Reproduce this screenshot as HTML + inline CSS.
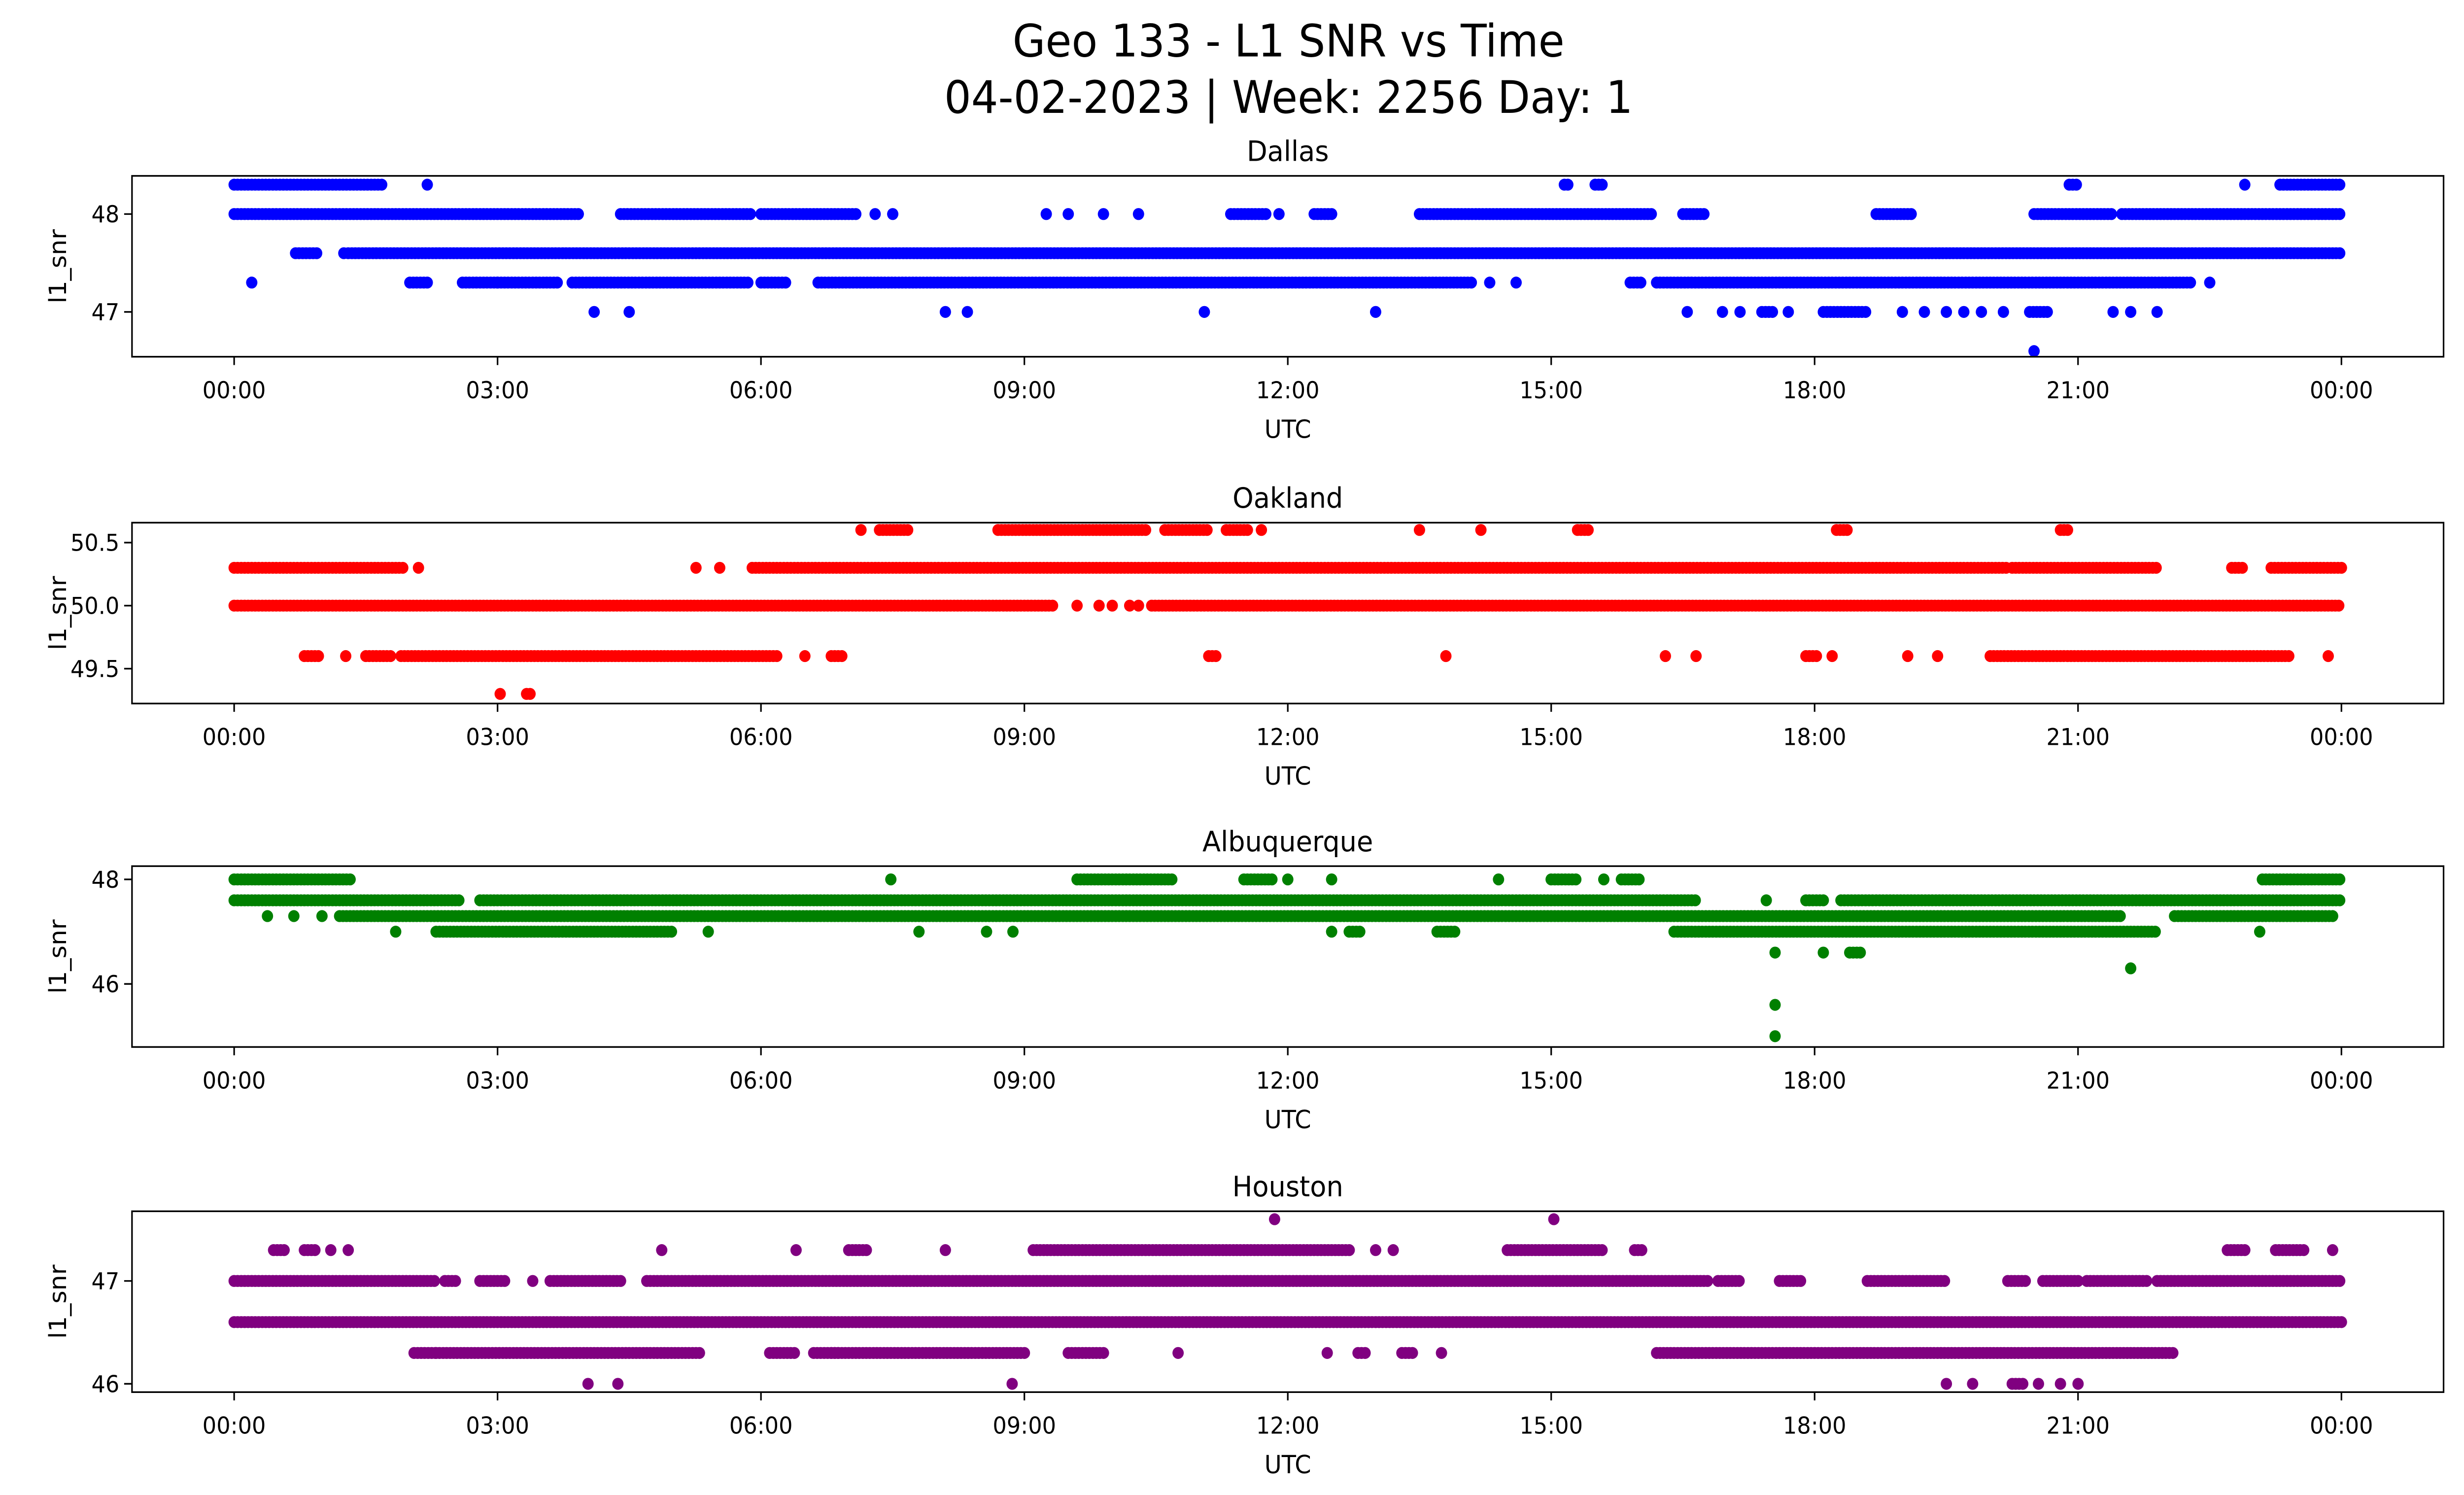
<!DOCTYPE html>
<html><head><meta charset="utf-8"><style>
html,body{margin:0;padding:0;background:#fff;width:100%;height:100%;overflow:hidden;}
svg{display:block;width:100vw;height:100vh;font-family:"DejaVu Sans","Liberation Sans",sans-serif;}
</style></head><body>
<svg id="chart" xmlns="http://www.w3.org/2000/svg" viewBox="0 0 1568 901" preserveAspectRatio="none">
<rect width="1568" height="901" fill="#fff"/>
<text x="820" y="34" font-size="27" text-anchor="middle">Geo 133 - L1 SNR vs Time</text>
<text x="820" y="68" font-size="27" text-anchor="middle">04-02-2023 | Week: 2256 Day: 1</text>
</svg>
<script>
// Panel names and colors
const panelNames = ["Dallas","Oakland","Albuquerque","Houston"];
const panelColors = ["#0000ff","#ff0000","#008000","#800080"];
// y tick values per panel
const yTicks0 = [47,48];
const yTicks1 = [49.5,50.0,50.5];
const yTicks2 = [46,48];
const yTicks3 = [46,47];
const yTickLabels1 = ["49.5","50.0","50.5"];
const xTickHours = [0,3,6,9,12,15,18,21,24];
const xTickLabels = ["00:00","03:00","06:00","09:00","12:00","15:00","18:00","21:00","00:00"];
// data: continuous runs [startHour,endHour,snr] and single points [hour,snr]
const dallasRuns = [[0,1.68,48.3],[15.15,15.2,48.3],[15.5,15.6,48.3],[20.9,21.0,48.3],[23.3,24,48.3],
 [0,3.95,48.0],[4.4,5.9,48.0],[6.0,7.1,48.0],[11.35,11.75,48.0],[12.3,12.5,48.0],[13.5,16.15,48.0],[16.5,16.75,48.0],[18.7,19.1,48.0],[20.5,21.4,48.0],[21.5,24,48.0],
 [0.7,0.95,47.6],[1.3,24,47.6],
 [2.0,2.2,47.3],[2.6,3.0,47.3],[3.0,3.7,47.3],[3.85,5.85,47.3],[6.0,6.3,47.3],[6.65,14.1,47.3],[15.9,16.05,47.3],[16.2,22.3,47.3],
 [17.4,17.55,47.0],[18.1,18.6,47.0],[20.45,20.65,47.0]];
const dallasPoints = [[2.2,48.3],[22.9,48.3],[7.5,48.0],[9.25,48.0],[9.5,48.0],[9.9,48.0],[10.3,48.0],[7.3,48.0],[11.9,48.0],[0.2,47.3],[1.25,47.6],[14.3,47.3],[14.6,47.3],[22.5,47.3],
 [4.1,47.0],[4.5,47.0],[8.1,47.0],[8.35,47.0],[11.05,47.0],[13.0,47.0],[16.55,47.0],[16.95,47.0],[17.15,47.0],[17.7,47.0],[19.0,47.0],[19.25,47.0],[19.5,47.0],[19.7,47.0],[19.9,47.0],[20.15,47.0],[21.4,47.0],[21.6,47.0],[21.9,47.0],[20.5,46.6]];
const oaklandRuns = [[0,1.92,50.3],[5.9,20.2,50.3],[20.25,21.9,50.3],[22.75,22.9,50.3],[23.2,24,50.3],
 [0,9.32,50.0],[10.45,24,50.0],
 [7.35,7.7,50.6],[8.7,10.4,50.6],[10.6,11.1,50.6],[11.3,11.55,50.6],[15.3,15.45,50.6],[18.25,18.4,50.6],[20.8,20.9,50.6],
 [0.8,0.97,49.6],[1.5,1.8,49.6],[1.9,6.2,49.6],[6.8,6.95,49.6],[11.1,11.2,49.6],[17.9,18.05,49.6],[20.0,23.4,49.6],[3.33,3.38,49.3]];
const oaklandPoints = [[2.1,50.3],[5.26,50.3],[5.53,50.3],[9.6,50.0],[9.85,50.0],[10.0,50.0],[10.2,50.0],[10.3,50.0],[7.14,50.6],[11.7,50.6],[13.5,50.6],[14.2,50.6],
 [1.27,49.6],[6.5,49.6],[13.8,49.6],[16.3,49.6],[16.65,49.6],[18.2,49.6],[19.06,49.6],[19.4,49.6],[23.85,49.6],[3.03,49.3]];
const albRuns = [[0,1.35,48.0],[9.6,10.7,48.0],[11.5,11.85,48.0],[15.0,15.3,48.0],[15.8,16.0,48.0],[23.1,24,48.0],
 [0,2.57,47.6],[2.8,16.65,47.6],[18.3,24,47.6],[17.9,18.1,47.6],
 [1.2,21.5,47.3],[22.1,23.9,47.3],
 [2.3,5.0,47.0],[16.4,21.9,47.0],[13.7,13.9,47.0],[12.7,12.85,47.0],[18.4,18.55,46.6]];
const albPoints = [[7.48,48.0],[12.0,48.0],[12.5,48.0],[14.4,48.0],[15.6,48.0],[17.45,47.6],[0.38,47.3],[0.68,47.3],[1.0,47.3],
 [1.84,47.0],[5.4,47.0],[7.8,47.0],[8.57,47.0],[8.87,47.0],[12.5,47.0],[23.07,47.0],[17.55,46.6],[18.1,46.6],[21.6,46.3],[17.55,45.6],[17.55,45.0]];
const houRuns = [[0.45,0.6,47.3],[0.8,0.93,47.3],[7.0,7.2,47.3],[9.1,12.7,47.3],[14.5,15.6,47.3],[15.95,16.05,47.3],[22.7,22.9,47.3],[23.25,23.6,47.3],
 [0,2.3,47.0],[2.4,2.55,47.0],[2.8,3.1,47.0],[3.6,4.4,47.0],[4.7,16.8,47.0],[16.9,17.15,47.0],[17.6,17.85,47.0],[18.6,19.5,47.0],[20.2,20.4,47.0],[20.6,21.0,47.0],[21.1,21.8,47.0],[21.9,24,47.0],
 [0,24,46.6],
 [2.05,2.3,46.3],[2.3,5.3,46.3],[6.1,6.4,46.3],[6.6,6.9,46.3],[6.8,9.0,46.3],[9.5,9.9,46.3],[12.8,12.9,46.3],[13.3,13.45,46.3],[16.2,22.1,46.3],[20.25,20.4,46.0]];
const houPoints = [[1.1,47.3],[1.3,47.3],[4.87,47.3],[6.4,47.3],[8.1,47.3],[13.0,47.3],[13.2,47.3],[23.9,47.3],[11.85,47.6],[15.03,47.6],[3.4,47.0],
 [10.75,46.3],[12.45,46.3],[13.75,46.3],[4.03,46.0],[4.37,46.0],[8.86,46.0],[19.5,46.0],[19.8,46.0],[20.55,46.0],[20.8,46.0],[21.0,46.0]];

const NS="http://www.w3.org/2000/svg";
const svg=document.getElementById('chart');
const panels=[
 {top:106,bot:215,ticks:yTicks0,labels:["47","48"],v0:48,y0:129,v1:47,y1:188,runs:dallasRuns,pts:dallasPoints},
 {top:315,bot:424,ticks:yTicks1,labels:yTickLabels1,v0:50.5,y0:327,v1:50.0,y1:365,runs:oaklandRuns,pts:oaklandPoints},
 {top:522,bot:631,ticks:yTicks2,labels:["46","48"],v0:48,y0:530,v1:46,y1:593,runs:albRuns,pts:albPoints},
 {top:730,bot:839,ticks:yTicks3,labels:["46","47"],v0:47,y0:772,v1:46,y1:834,runs:houRuns,pts:houPoints}];
const L=84,R=1555;
function xs(h){return 149+h*(1490-149)/24;}
function mk(tag,attrs,parent){const e=document.createElementNS(NS,tag);for(const k in attrs)e.setAttribute(k,attrs[k]);(parent||svg).appendChild(e);return e;}
panels.forEach((p,i)=>{
 const ys=v=>p.y0+(v-p.v0)*(p.y1-p.y0)/(p.v1-p.v0);
 const g=mk('g',{});
 
 
 const t=mk('text',{x:(L+R)/2,y:p.top-9,'font-size':17,'text-anchor':'middle'},g);t.textContent=panelNames[i];
 
 
 const dots=mk('g',{fill:panelColors[i]},g);
 
 
 p.runs.forEach(r=>{for(let h=r[0];h<=r[1]+1e-9;h+=0.04){const c=mk('circle',{cx:xs(h).toFixed(1),cy:ys(r[2]).toFixed(1),r:3.6},dots);}});
 p.pts.forEach(q=>{const c=mk('circle',{cx:xs(q[0]).toFixed(1),cy:ys(q[1]).toFixed(1),r:3.6},dots);
  
  });
 const frame=mk('rect',{x:L,y:p.top,width:R-L,height:p.bot-p.top,fill:'none',stroke:'#000','stroke-width':1},g);
 
 
 xTickHours.forEach((h,j)=>{const x=xs(h);mk('line',{x1:x,x2:x,y1:p.bot,y2:p.bot+5,stroke:'#000'},g);
  const tl=mk('text',{x:x,y:p.bot+25,'font-size':14,'text-anchor':'middle'},g);tl.textContent=xTickLabels[j];
  
  });
 p.ticks.forEach((v,j)=>{const y=ys(v);mk('line',{x1:L-5,x2:L,y1:y,y2:y,stroke:'#000'},g);
  const tl=mk('text',{x:L-8,y:y+5,'font-size':14,'text-anchor':'end'},g);tl.textContent=p.labels[j];
  
  });
 const xl=mk('text',{x:(L+R)/2,y:p.bot+49,'font-size':15,'text-anchor':'middle'},g);xl.textContent='UTC';
 
 
 const cy=(p.top+p.bot)/2;
 const yl=mk('text',{x:0,y:0,'font-size':15,'text-anchor':'middle',transform:`translate(42,${cy}) rotate(-90)`},g);yl.textContent='l1_snr';
 
 
});
</script>
</body></html>
